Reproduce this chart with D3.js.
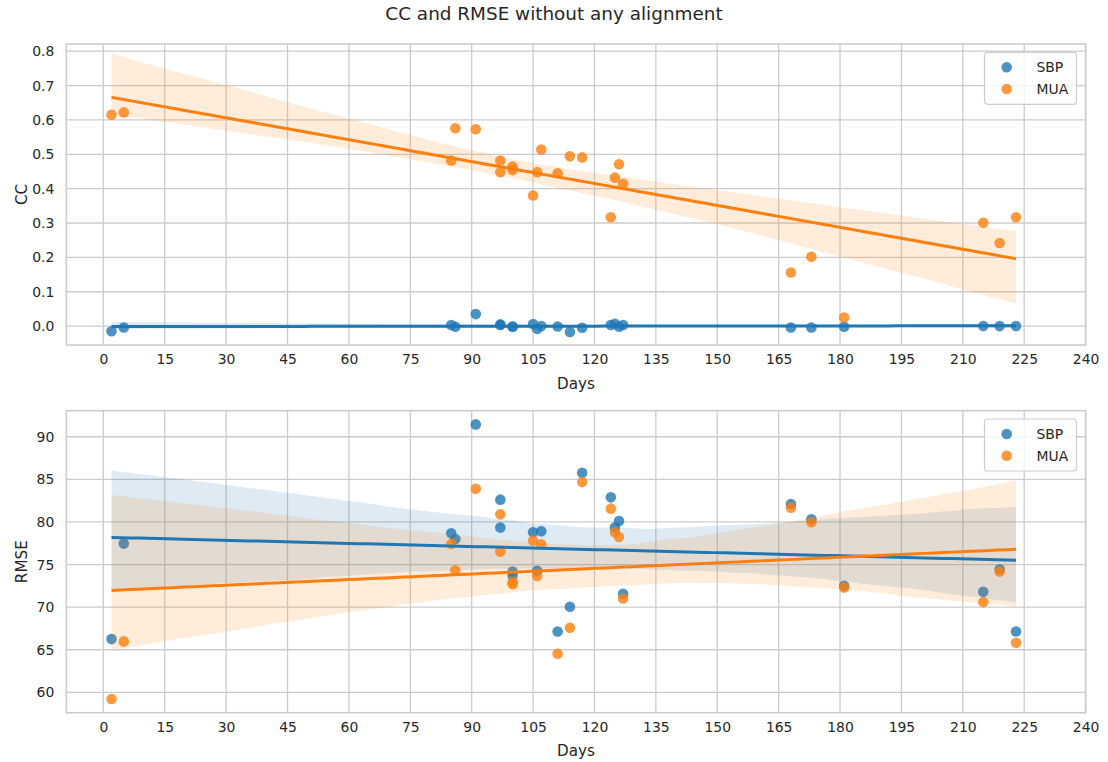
<!DOCTYPE html>
<html>
<head>
<meta charset="utf-8">
<script src="https://cdn.jsdelivr.net/npm/d3@7"></script>
<style>
  html, body { margin: 0; padding: 0; background: #fff; }
  svg { display: block; font-family: "DejaVu Sans", sans-serif; }
</style>
</head>
<body>
<svg id="fig" width="1108" height="762"></svg>
<script>
// Recording sessions (days since implant)
const days = [2, 5, 85, 86, 91, 97, 97, 100, 100, 105, 106, 107, 111, 114, 117, 124, 125, 126, 127, 168, 173, 181, 215, 219, 223];

// Correlation coefficient per session
const ccSBP = [-0.015, -0.004, 0.003, -0.002, 0.035, 0.005, 0.003, -0.002, -0.001, 0.006, -0.008, 0.000, -0.001, -0.017, -0.005, 0.003, 0.007, -0.002, 0.003, -0.004, -0.004, -0.002, 0.000, 0.000, 0.000];
const ccMUA = [0.615, 0.622, 0.482, 0.576, 0.573, 0.482, 0.448, 0.464, 0.454, 0.380, 0.448, 0.514, 0.445, 0.494, 0.491, 0.317, 0.432, 0.471, 0.414, 0.156, 0.202, 0.025, 0.301, 0.242, 0.317];

// RMSE per session
const rmseSBP = [66.25, 77.46, 78.67, 78.0, 91.45, 82.62, 79.34, 74.18, 73.71, 78.79, 74.26, 78.91, 67.15, 70.04, 85.78, 82.89, 79.34, 80.12, 71.56, 82.11, 80.31, 72.5, 71.8, 74.45, 67.15];
const rmseMUA = [59.22, 65.98, 77.42, 74.34, 83.9, 80.9, 76.52, 72.93, 72.7, 77.81, 73.67, 77.38, 64.53, 67.58, 84.69, 81.56, 78.79, 78.24, 71.02, 81.68, 79.96, 72.3, 70.59, 74.18, 65.82];

// Axis settings
const xTicks = d3.range(0, 241, 15);
const xLimits = [-9.05, 240];
const ccTicks = [0.0, 0.1, 0.2, 0.3, 0.4, 0.5, 0.6, 0.7, 0.8];
const ccLimits = [-0.055, 0.821];
const rmseTicks = [60, 65, 70, 75, 80, 85, 90];
const rmseLimits = [57.61, 93.06];

const seriesNames = ["SBP", "MUA"];
const seriesColors = ["#1f77b4", "#ff7f0e"];

const svg = d3.select("#fig");
const textColor = "#262626";
const gridColor = "#cccccc";

function ols(xs, ys, idx) {
  let mx = 0, my = 0;
  idx.forEach(i => { mx += xs[i]; my += ys[i]; });
  mx /= idx.length; my /= idx.length;
  let sxx = 0, sxy = 0;
  idx.forEach(i => { sxx += (xs[i] - mx) ** 2; sxy += (xs[i] - mx) * (ys[i] - my); });
  const b = sxx > 0 ? sxy / sxx : 0;
  return [my - b * mx, b];
}

// Linear fit with a bootstrapped 95% confidence band (seeded, 1000 resamples)
function linearFit(xs, ys, seed) {
  const n = xs.length;
  const all = d3.range(n);
  const [a, b] = ols(xs, ys, all);
  const x0 = d3.min(xs), x1 = d3.max(xs);
  const grid = d3.range(100).map(i => x0 + (x1 - x0) * i / 99);
  const rand = d3.randomInt.source(d3.randomLcg(seed))(0, n);
  const boots = grid.map(() => []);
  for (let r = 0; r < 1000; r++) {
    const idx = all.map(() => rand());
    const [ba, bb] = ols(xs, ys, idx);
    grid.forEach((x, j) => boots[j].push(ba + bb * x));
  }
  return grid.map((x, j) => {
    const v = boots[j].sort(d3.ascending);
    return { x, y: a + b * x, lo: d3.quantileSorted(v, 0.025), hi: d3.quantileSorted(v, 0.975) };
  });
}

function panel(cfg) {
  const x = d3.scaleLinear().domain(xLimits).range([66.3, 1085.6]);
  const y = d3.scaleLinear().domain(cfg.yLimits).range([cfg.bottom, cfg.top]);
  const g = svg.append("g");

  // grid
  g.append("g").selectAll("line").data(xTicks).join("line")
    .attr("x1", d => x(d)).attr("x2", d => x(d))
    .attr("y1", cfg.top).attr("y2", cfg.bottom)
    .attr("stroke", gridColor).attr("stroke-width", 1.3);
  g.append("g").selectAll("line").data(cfg.yTicks).join("line")
    .attr("x1", x.range()[0]).attr("x2", x.range()[1])
    .attr("y1", d => y(d)).attr("y2", d => y(d))
    .attr("stroke", gridColor).attr("stroke-width", 1.3);

  // tick labels via d3 axes (no tick marks)
  const xAxis = d3.axisBottom(x).tickValues(xTicks).tickSize(0).tickPadding(9).tickFormat(d3.format("d"));
  const xa = g.append("g").attr("transform", `translate(0,${cfg.bottom})`).call(xAxis);
  const yAxis = d3.axisLeft(y).tickValues(cfg.yTicks).tickSize(0).tickPadding(12).tickFormat(cfg.yFormat);
  const ya = g.append("g").attr("transform", `translate(${x.range()[0]},0)`).call(yAxis);
  [xa, ya].forEach(a => {
    a.select(".domain").remove();
    a.selectAll("text").attr("fill", textColor).attr("font-size", 13.9).attr("font-family", "DejaVu Sans");
  });

  // data layers: points and band (per series), then fit lines on top
  const fits = cfg.series.map((s, k) => linearFit(days, s, cfg.seeds[k]));
  const area = d3.area().x(d => x(d.x)).y0(d => y(d.lo)).y1(d => y(d.hi));
  const line = d3.line().x(d => x(d.x)).y(d => y(d.y));
  const clip = "clip-" + cfg.id;
  svg.append("clipPath").attr("id", clip).append("rect")
    .attr("x", x.range()[0]).attr("y", cfg.top)
    .attr("width", x.range()[1] - x.range()[0]).attr("height", cfg.bottom - cfg.top);
  const plot = g.append("g").attr("clip-path", `url(#${clip})`);

  cfg.series.forEach((s, k) => {
    plot.append("g").selectAll("circle").data(s).join("circle")
      .attr("cx", (d, i) => x(days[i])).attr("cy", d => y(d))
      .attr("r", 5.3).attr("fill", seriesColors[k]).attr("fill-opacity", 0.8);
    plot.append("path").datum(fits[k]).attr("d", area)
      .attr("fill", seriesColors[k]).attr("fill-opacity", 0.15);
  });
  cfg.series.forEach((s, k) => {
    plot.append("path").datum(fits[k]).attr("d", line)
      .attr("fill", "none").attr("stroke", seriesColors[k]).attr("stroke-width", 3);
  });

  // frame
  g.append("rect").attr("x", x.range()[0]).attr("y", cfg.top)
    .attr("width", x.range()[1] - x.range()[0]).attr("height", cfg.bottom - cfg.top)
    .attr("fill", "none").attr("stroke", gridColor).attr("stroke-width", 1.6);

  // axis labels
  g.append("text").attr("x", (x.range()[0] + x.range()[1]) / 2).attr("y", cfg.bottom + 43.5)
    .attr("text-anchor", "middle").attr("fill", textColor).attr("font-size", 15.2).text("Days");
  g.append("text").attr("transform", `translate(26.5,${(cfg.top + cfg.bottom) / 2}) rotate(-90)`)
    .attr("text-anchor", "middle").attr("fill", textColor).attr("font-size", 15.2).text(cfg.label);

  // legend
  const lg = g.append("g").attr("transform", `translate(984.5,${cfg.top + 8.3})`);
  lg.append("rect").attr("width", 92).attr("height", 52).attr("rx", 3)
    .attr("fill", "#fff").attr("fill-opacity", 0.8)
    .attr("stroke", gridColor).attr("stroke-width", 1.2);
  seriesNames.forEach((nm, k) => {
    lg.append("circle").attr("cx", 22.2).attr("cy", 15 + k * 21.7).attr("r", 5.3)
      .attr("fill", seriesColors[k]).attr("fill-opacity", 0.8);
    lg.append("text").attr("x", 52).attr("y", 15 + k * 21.7 + 5)
      .attr("fill", textColor).attr("font-size", 13.9).text(nm);
  });
}

// figure title
svg.append("text").attr("x", 554).attr("y", 20).attr("text-anchor", "middle")
  .attr("fill", textColor).attr("font-size", 18.4).text("CC and RMSE without any alignment");

panel({ id: "cc", top: 44, bottom: 345, yLimits: ccLimits, yTicks: ccTicks,
        yFormat: d3.format(".1f"), series: [ccSBP, ccMUA], label: "CC", seeds: [11, 29] });
panel({ id: "rmse", top: 410.7, bottom: 712.7, yLimits: rmseLimits, yTicks: rmseTicks,
        yFormat: d3.format("d"), series: [rmseSBP, rmseMUA], label: "RMSE", seeds: [7, 3] });
</script>
</body>
</html>
